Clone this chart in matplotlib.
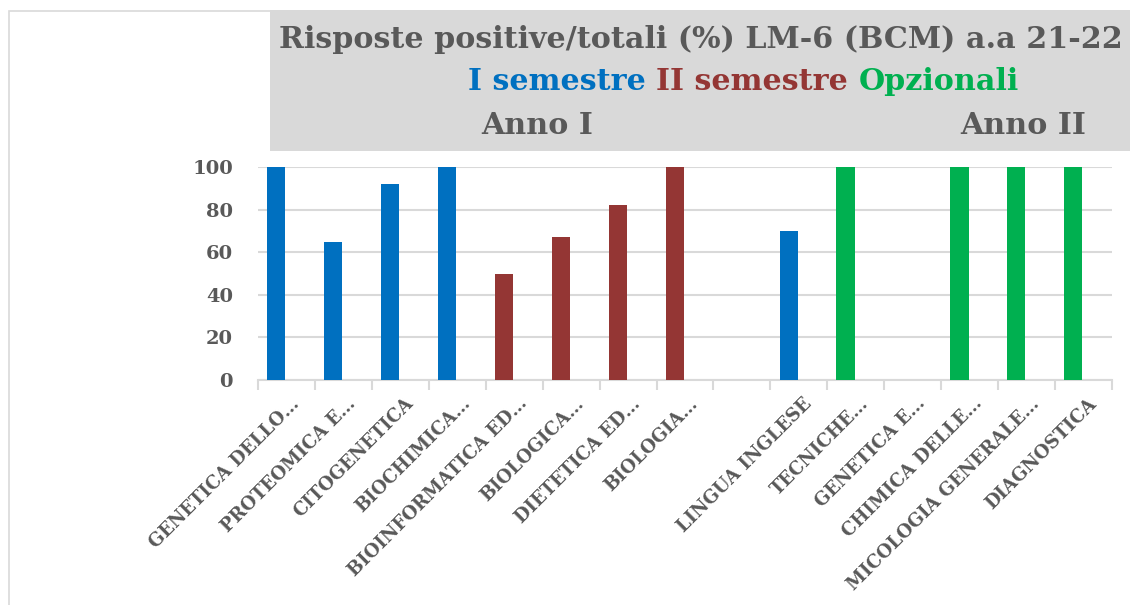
import numpy as np
import matplotlib
matplotlib.use('Agg')
import matplotlib.pyplot as plt
import matplotlib.transforms as mtransforms
from matplotlib.patches import Rectangle

# data
labels = ["GENETICA DELLO…", "PROTEOMICA E…", "CITOGENETICA", "BIOCHIMICA…",
          "BIOINFORMATICA ED…", "BIOLOGICA…", "DIETETICA ED…", "BIOLOGIA…",
          "", "LINGUA INGLESE", "TECNICHE…", "GENETICA E…", "CHIMICA DELLE…",
          "MICOLOGIA GENERALE…", "DIAGNOSTICA"]
values = [100, 65, 92, 100, 50, 67, 82, 100, 0, 70, 100, 0, 100, 100, 100]
groups = ["I", "I", "I", "I", "II", "II", "II", "II", "-", "I", "O", "O", "O", "O", "O"]
yticks = [0, 20, 40, 60, 80, 100]

COL = {"I": "#0070C0", "II": "#943634", "O": "#00B050", "-": "#ffffff"}
GREY = "#595959"
LIGHT = "#d9d9d9"
FONT = "DejaVu Serif"

W, H = 1130, 605
fig = plt.figure(figsize=(W / 100, H / 100), dpi=100)
fig.patch.set_facecolor("white")

# outer chart frame + grey title box
fig.patches.append(Rectangle((9 / W, -0.01), 1.1, (H - 11) / H + 0.01, transform=fig.transFigure,
                             fill=False, edgecolor=LIGHT, lw=1.2))
fig.patches.append(Rectangle((270 / W, (H - 151) / H), 1.0, 141 / H, transform=fig.transFigure,
                             facecolor=LIGHT, edgecolor="none"))

ax = fig.add_axes([258 / W, (H - 380) / H, (1112 - 258) / W, (380 - 167) / H])
x = np.arange(len(values))
ax.bar(x - 0.18, values, width=0.32, color=[COL[g] for g in groups], zorder=3, clip_on=False)

ax.set_xlim(-0.5, len(values) - 0.5)
ax.set_ylim(0, 100)
ax.set_yticks(yticks)
ax.set_yticklabels([str(v) for v in yticks], fontfamily=FONT, fontweight="bold",
                   fontsize=14, color=GREY)
ax.tick_params(axis="y", length=0, pad=18)
ax.grid(axis="y", color=LIGHT, lw=1.5, zorder=0)
for s in ["top", "right", "left"]:
    ax.spines[s].set_visible(False)
ax.spines["bottom"].set_color(LIGHT)
ax.spines["bottom"].set_linewidth(1.5)

ax.set_xticks(x)
ax.set_xticklabels(labels, rotation=45, ha="right", va="center", rotation_mode="anchor",
                   fontfamily=FONT, fontweight="bold", fontsize=13, color=GREY)
ax.tick_params(axis="x", which="major", length=0, pad=15)
ax.set_xticks(np.arange(-0.5, len(values)), minor=True)
ax.tick_params(axis="x", which="minor", length=7, width=1.5, color=LIGHT)
off = mtransforms.ScaledTranslation(0.1, 0, fig.dpi_scale_trans)
for t in ax.get_xticklabels():
    t.set_transform(t.get_transform() + off)

# title text, sized so line 1 spans the grey box like the reference
title = "Risposte positive/totali (%) LM-6 (BCM) a.a 21-22"
fig.canvas.draw()
r = fig.canvas.get_renderer()
probe = fig.text(0, 0, title, fontfamily=FONT, fontweight="bold", fontsize=20)
fs = 20 * 842 / probe.get_window_extent(r).width
probe.remove()

fig.text(279 / W, 1 - 39 / H, title,
         fontfamily=FONT, fontweight="bold", fontsize=fs, color=GREY, ha="left", va="center")
parts = [("I semestre ", COL["I"]), ("II semestre ", COL["II"]), ("Opzionali", COL["O"])]
widths = []
for s, c in parts:
    tt = fig.text(0, 0, s, fontfamily=FONT, fontweight="bold", fontsize=fs)
    widths.append(tt.get_window_extent(r).width)
    tt.remove()
xs = 743 - sum(widths) / 2
for (s, c), w in zip(parts, widths):
    fig.text(xs / W, 1 - 82 / H, s, fontfamily=FONT, fontweight="bold", fontsize=fs,
             color=c, ha="left", va="center")
    xs += w
fig.text(537 / W, 1 - 126 / H, "Anno I", fontfamily=FONT, fontweight="bold", fontsize=fs,
         color=GREY, ha="center", va="center")
fig.text(1023 / W, 1 - 126 / H, "Anno II", fontfamily=FONT, fontweight="bold", fontsize=fs,
         color=GREY, ha="center", va="center")

fig.savefig("out.png", dpi=100, facecolor="white")
